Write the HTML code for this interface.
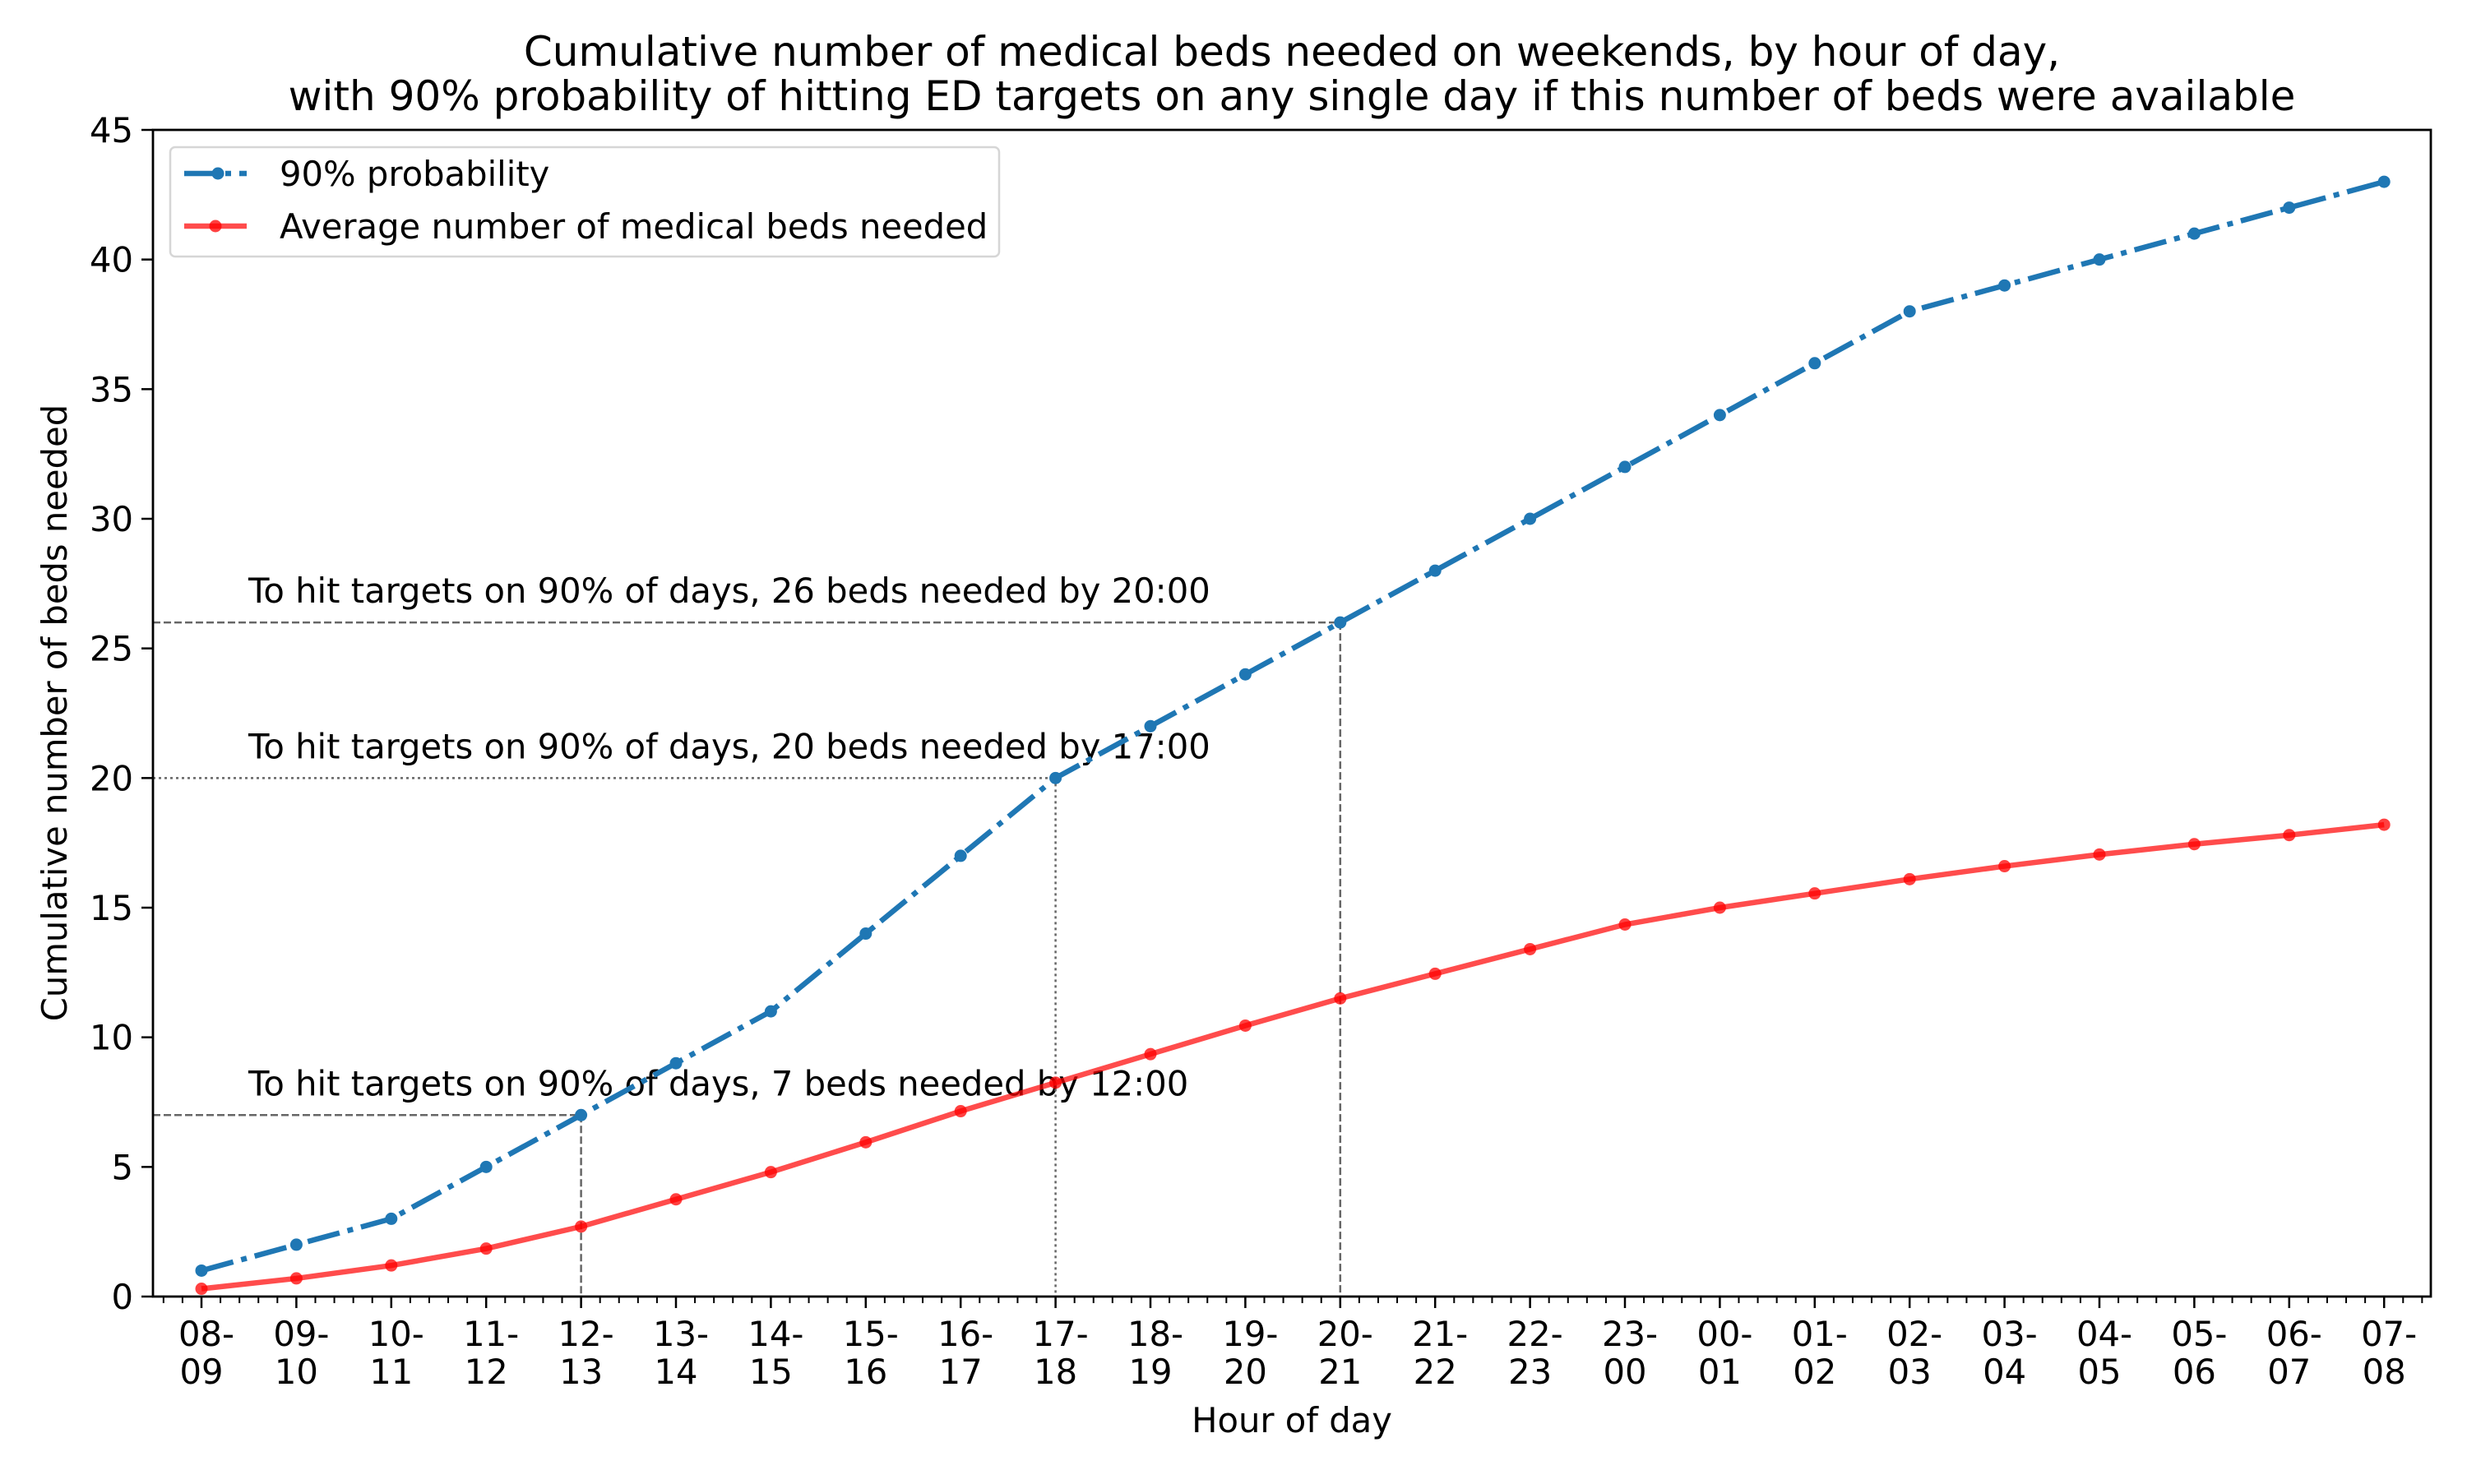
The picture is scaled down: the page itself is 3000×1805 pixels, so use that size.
<!DOCTYPE html>
<html><head><meta charset="utf-8"><style>
body{margin:0;background:#fff}
svg text{font-family:"DejaVu Sans","Liberation Sans",sans-serif;fill:#000}
</style></head><body>
<svg id="c" width="3000" height="1800" viewBox="0 0 3000 1800" xmlns="http://www.w3.org/2000/svg">
<rect width="3000" height="1800" fill="#fff"/>
<text x="1571" y="80" font-size="50" text-anchor="middle">Cumulative number of medical beds needed on weekends, by hour of day,</text>
<text x="1571" y="134" font-size="50" text-anchor="middle">with 90% probability of hitting ED targets on any single day if this number of beds were available</text>
<g id="g"></g>
<text x="1571" y="1742" font-size="41.7" text-anchor="middle">Hour of day</text>
<text transform="translate(81,867) rotate(-90)" font-size="41.7" text-anchor="middle">Cumulative number of beds needed</text>
</svg>
<script>
const categories=["08-09","09-10","10-11","11-12","12-13","13-14","14-15","15-16","16-17","17-18","18-19","19-20","20-21","21-22","22-23","23-00","00-01","01-02","02-03","03-04","04-05","05-06","06-07","07-08"];
const p90=[1,2,3,5,7,9,11,14,17,20,22,24,26,28,30,32,34,36,38,39,40,41,42,43];
const avg=[0.3,0.7,1.2,1.85,2.7,3.75,4.8,5.95,7.15,8.25,9.35,10.45,11.5,12.45,13.4,14.35,15,15.55,16.1,16.6,17.05,17.45,17.8,18.2];
const yTicks=[0,5,10,15,20,25,30,35,40,45];
const annIdx=[4,9,12];
const annBeds=[7,20,26];
const annTime=["12:00","17:00","20:00"];
const L=186,R=2956,T=158,B=1577;
const X=i=>245+115.4*i, Y=v=>B-(v/45)*(B-T);
const g=document.getElementById('g');const NS="http://www.w3.org/2000/svg";
function mk(t,a,p){const e=document.createElementNS(NS,t);for(const k in a)e.setAttribute(k,a[k]);(p||g).appendChild(e);return e;}
annIdx.forEach((idx,k)=>{
  const dash=k===1?"3,4":"9,4";
  const h=mk('line',{x1:L,x2:X(idx),y1:Y(annBeds[k]),y2:Y(annBeds[k]),stroke:"#666",'stroke-width':2.5,'stroke-dasharray':dash});
  
  
  const v=mk('line',{x1:X(idx),x2:X(idx),y1:Y(annBeds[k]),y2:B,stroke:"#666",'stroke-width':2.5,'stroke-dasharray':dash});
  
  
  const t=mk('text',{x:302,y:Y(annBeds[k])-24,'font-size':41.7});
  t.textContent="To hit targets on 90% of days, "+annBeds[k]+" beds needed by "+annTime[k];
  
  
});
const pb=mk('polyline',{points:p90.map((v,i)=>X(i)+","+Y(v)).join(" "),fill:"none",stroke:"#1f77b4",'stroke-width':6.5,'stroke-dasharray':"40,10,7,10"});


p90.forEach((v,i)=>{const c=mk('circle',{cx:X(i),cy:Y(v),r:7.5,fill:"#1f77b4"});

});
const pr=mk('polyline',{points:avg.map((v,i)=>X(i)+","+Y(v)).join(" "),fill:"none",stroke:"#ff0000",'stroke-opacity':0.7,'stroke-width':6.5});


avg.forEach((v,i)=>{const c=mk('circle',{cx:X(i),cy:Y(v),r:7.5,fill:"#ff0000",'fill-opacity':0.75});

});
const fr=mk('rect',{x:L,y:T,width:R-L,height:B-T,fill:"none",stroke:"#000",'stroke-width':2.8});


yTicks.forEach(v=>{mk('line',{x1:L-14,x2:L,y1:Y(v),y2:Y(v),stroke:"#000",'stroke-width':2.5});
const t=mk('text',{x:L-24,y:Y(v)+15,'font-size':41.7,'text-anchor':'end'});t.textContent=v;

});
for(let k=-5;k<130;k++){const x=X(0)+k*23.08;if(x>L&&x<R)mk('line',{x1:x,x2:x,y1:B,y2:B+8,stroke:"#000",'stroke-width':2});}
categories.forEach((c,i)=>{mk('line',{x1:X(i),x2:X(i),y1:B,y2:B+14,stroke:"#000",'stroke-width':2.5});
const p=c.split("-");
const t1=mk('text',{x:X(i)+6,y:1637,'font-size':41.7,'text-anchor':'middle'});t1.textContent=p[0]+"-";


const t2=mk('text',{x:X(i),y:1683,'font-size':41.7,'text-anchor':'middle'});t2.textContent=p[1];

});
const lg=mk('g',{});


mk('rect',{x:207,y:179,width:1008,height:133,rx:6,fill:"#fff",'fill-opacity':0.8,stroke:"#d6d6d6",'stroke-width':2.5},lg);
mk('line',{x1:224,x2:300,y1:211,y2:211,stroke:"#1f77b4",'stroke-width':6.5,'stroke-dasharray':"40,10,7,10"},lg);
mk('circle',{cx:265,cy:211,r:7.5,fill:"#1f77b4"},lg);
const l1=mk('text',{x:340,y:226,'font-size':41.7},lg);l1.textContent="90% probability";


mk('line',{x1:224,x2:300,y1:275,y2:275,stroke:"#ff0000",'stroke-opacity':0.7,'stroke-width':6.5},lg);
mk('circle',{cx:262,cy:275,r:7.5,fill:"#ff0000",'fill-opacity':0.75},lg);
const l2=mk('text',{x:340,y:290,'font-size':41.7},lg);l2.textContent="Average number of medical beds needed";


</script>
</body></html>
